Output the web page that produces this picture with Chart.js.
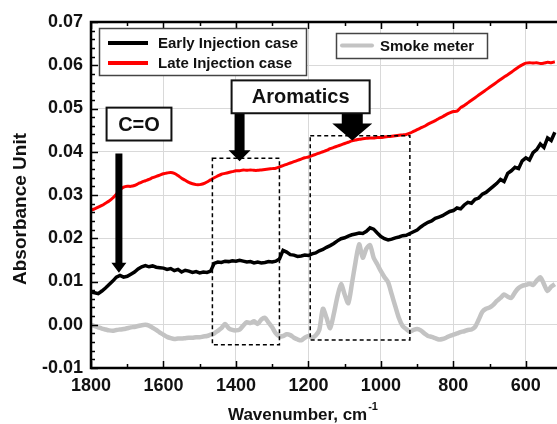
<!DOCTYPE html>
<html>
<head>
  <meta charset="utf-8">
  <title>Absorbance spectra</title>
  <script src="https://cdn.jsdelivr.net/npm/chart.js"></script>
  <style>
    body { margin: 0; background: #fff; }
    canvas { display: block; }
  </style>
</head>
<body>
  <canvas id="myChart" width="557" height="424"></canvas>

  <script>
    // Wavenumber, cm-1
    var wavenumber = [
      1800, 1790, 1780, 1770, 1760, 1750, 1740, 1730, 1720, 1710,
      1700, 1690, 1680, 1670, 1660, 1650, 1640, 1630, 1620, 1610,
      1600, 1590, 1580, 1570, 1560, 1550, 1540, 1530, 1520, 1510,
      1500, 1490, 1480, 1470, 1460, 1450, 1440, 1430, 1420, 1410,
      1400, 1390, 1380, 1370, 1360, 1350, 1340, 1330, 1320, 1310,
      1300, 1290, 1280, 1270, 1260, 1250, 1240, 1230, 1220, 1210,
      1200, 1190, 1180, 1170, 1160, 1150, 1140, 1130, 1120, 1110,
      1100, 1090, 1080, 1070, 1060, 1050, 1040, 1030, 1020, 1010,
      1000, 990, 980, 970, 960, 950, 940, 930, 920, 910,
      900, 890, 880, 870, 860, 850, 840, 830, 820, 810,
      800, 790, 780, 770, 760, 750, 740, 730, 720, 710,
      700, 690, 680, 670, 660, 650, 640, 630, 620, 610,
      600, 590, 580, 570, 560, 550, 540, 530, 520
    ];

    // Early Injection case
    var earlyInjection = [
      0.0076, 0.0074, 0.0072, 0.0078, 0.0085, 0.0093, 0.0101, 0.0110, 0.0114, 0.0110,
      0.0112, 0.0117, 0.0122, 0.0129, 0.0134, 0.0137, 0.0134, 0.0136, 0.0133, 0.0132,
      0.0131, 0.0128, 0.0130, 0.0125, 0.0128, 0.0122, 0.0126, 0.0124, 0.0121, 0.0123,
      0.0120, 0.0122, 0.0121, 0.0124, 0.0142, 0.0145, 0.0144, 0.0147, 0.0146, 0.0148,
      0.0147, 0.0149, 0.0147, 0.0145, 0.0146, 0.0143, 0.0145, 0.0143, 0.0144, 0.0146,
      0.0145, 0.0147, 0.0152, 0.0172, 0.0168, 0.0162, 0.0161, 0.0158, 0.0159, 0.0161,
      0.0160, 0.0164, 0.0166, 0.0171, 0.0174, 0.0179, 0.0183, 0.0188, 0.0194, 0.0199,
      0.0201, 0.0205, 0.0208, 0.0210, 0.0212, 0.0211, 0.0216, 0.0224, 0.0221, 0.0212,
      0.0204, 0.0199, 0.0196, 0.0198, 0.0201, 0.0203, 0.0206, 0.0207, 0.0211, 0.0215,
      0.0219, 0.0226, 0.0232, 0.0237, 0.0240, 0.0246, 0.0249, 0.0252, 0.0257, 0.0262,
      0.0264, 0.0270, 0.0268, 0.0277, 0.0283, 0.0281, 0.0290, 0.0293, 0.0302, 0.0306,
      0.0313, 0.0320, 0.0327, 0.0336, 0.0331, 0.0350, 0.0356, 0.0364, 0.0361, 0.0379,
      0.0386, 0.0381, 0.0398, 0.0405, 0.0418, 0.0410, 0.0432, 0.0426, 0.0445
    ];

    // Late Injection case
    var lateInjection = [
      0.0265, 0.0268, 0.0272, 0.0276, 0.0281, 0.0286, 0.0293, 0.0302, 0.0312, 0.0318,
      0.0320, 0.0320, 0.0322, 0.0326, 0.0330, 0.0333, 0.0336, 0.0340, 0.0343, 0.0346,
      0.0349, 0.0351, 0.0352, 0.0350, 0.0345, 0.0339, 0.0334, 0.0329, 0.0326, 0.0324,
      0.0324, 0.0326, 0.0330, 0.0335, 0.0340, 0.0344, 0.0348, 0.0350, 0.0352, 0.0354,
      0.0356, 0.0356, 0.0358, 0.0357, 0.0358, 0.0357, 0.0357, 0.0358, 0.0359, 0.0360,
      0.0361, 0.0362, 0.0365, 0.0368, 0.0371, 0.0374, 0.0377, 0.0380, 0.0383, 0.0386,
      0.0388, 0.0391, 0.0394, 0.0397, 0.0400, 0.0403, 0.0407, 0.0410, 0.0413, 0.0416,
      0.0419, 0.0422, 0.0425, 0.0427, 0.0429, 0.0430, 0.0431, 0.0432, 0.0432, 0.0433,
      0.0433, 0.0434, 0.0435, 0.0436, 0.0437, 0.0438, 0.0439, 0.0440, 0.0443, 0.0447,
      0.0451, 0.0455, 0.0459, 0.0464, 0.0468, 0.0472, 0.0477, 0.0481, 0.0486, 0.0490,
      0.0493, 0.0494, 0.0502, 0.0507, 0.0513, 0.0519, 0.0525, 0.0531, 0.0537, 0.0543,
      0.0549, 0.0555, 0.0561, 0.0567, 0.0573, 0.0578, 0.0584, 0.0590, 0.0596, 0.0601,
      0.0605, 0.0606, 0.0605, 0.0606, 0.0604, 0.0605, 0.0607, 0.0606, 0.0608
    ];

    // Smoke meter
    var smokeMeter = [
      0.0000, -0.0003, -0.0006, -0.0009, -0.0011, -0.0013, -0.0014, -0.0012, -0.0011, -0.0010,
      -0.0008, -0.0006, -0.0005, -0.0003, -0.0001, 0.0000, -0.0002, -0.0007, -0.0012, -0.0018,
      -0.0023, -0.0028, -0.0031, -0.0033, -0.0032, -0.0032, -0.0031, -0.0030, -0.0030, -0.0029,
      -0.0029, -0.0027, -0.0026, -0.0023, -0.0020, -0.0014, -0.0008, 0.0002, -0.0008, -0.0012,
      -0.0013, -0.0011, -0.0002, 0.0006, 0.0004, 0.0008, 0.0002, 0.0012, 0.0016, 0.0005,
      -0.0006, -0.0020, -0.0027, -0.0026, -0.0022, -0.0024, -0.0030, -0.0034, -0.0036, -0.0030,
      -0.0026, -0.0030, -0.0025, -0.0012, 0.0037, 0.0016, -0.0008, 0.0025, 0.0065, 0.0094,
      0.0070, 0.0050, 0.0095, 0.0145, 0.0186, 0.0155, 0.0176, 0.0184, 0.0155, 0.0140,
      0.0124, 0.0110, 0.0098, 0.0070, 0.0042, 0.0015, -0.0003, -0.0010, -0.0016, -0.0012,
      -0.0010, -0.0013, -0.0020, -0.0026, -0.0028, -0.0031, -0.0034, -0.0033, -0.0030, -0.0026,
      -0.0023, -0.0020, -0.0017, -0.0015, -0.0012, -0.0011, -0.0005, 0.0012, 0.0030, 0.0037,
      0.0040, 0.0046, 0.0055, 0.0062, 0.0070, 0.0065, 0.0062, 0.0075, 0.0085, 0.0090,
      0.0092, 0.0095, 0.0092, 0.0102, 0.0110, 0.0094, 0.0078, 0.0088, 0.0094
    ];

    // Marcas del gráfico (en unidades de los ejes)
    var dashedBoxes = [
      { from: 1465, to: 1280, top: 0.0385, bottom: -0.0046 },
      { from: 1195, to: 920, top: 0.0437, bottom: -0.0035 }
    ];
    var labelBoxes = [
      { text: 'C=O', from: 1757, to: 1578, top: 0.0502, bottom: 0.0426 },
      { text: 'Aromatics', from: 1412, to: 1031, top: 0.0565, bottom: 0.0489 }
    ];
    var arrows = [
      { x: 1723, top: 0.0396, tip: 0.0120, shaft: 7, head: 15, headH: 10 },
      { x: 1390, top: 0.0489, tip: 0.0378, shaft: 10, head: 22, headH: 11 },
      { x: 1079, top: 0.0489, tip: 0.0426, shaft: 21, head: 40, headH: 17 }
    ];

    var FONT = 'Arial, "Liberation Sans", sans-serif';

    function toPoints(ys) {
      return wavenumber.map(function(w, i) { return { x: w, y: ys[i] }; });
    }

    // Dibuja bordes, marcas, cajas, flechas, leyendas y títulos
    var decorPlugin = {
      id: 'decor',
      afterDraw: function(chart) {
        var c = chart.ctx, a = chart.chartArea;
        var xs = chart.scales.x, ys = chart.scales.y;
        c.save();

        // ticks hacia adentro
        c.strokeStyle = '#000';
        c.lineWidth = 1.5;
        c.beginPath();
        for (var w = 600; w <= 1800; w += 100) {
          var px = Math.round(xs.getPixelForValue(w)) + 0.5;
          var len = (w % 200 === 0) ? 7 : 4;
          c.moveTo(px, a.bottom); c.lineTo(px, a.bottom - len);
          c.moveTo(px, a.top); c.lineTo(px, a.top + len);
        }
        for (var k = -10; k <= 70; k += 2) {
          var py = Math.round(ys.getPixelForValue(k / 1000)) + 0.5;
          var l2 = (k % 10 === 0) ? 7 : 4;
          c.moveTo(a.left, py); c.lineTo(a.left + l2, py);
        }
        c.stroke();

        // borde
        c.lineWidth = 2.5;
        c.beginPath();
        c.moveTo(a.right, a.top);
        c.lineTo(a.left, a.top);
        c.lineTo(a.left, a.bottom);
        c.lineTo(a.right, a.bottom);
        c.stroke();

        // cajas punteadas
        c.lineWidth = 1.5;
        c.setLineDash([4, 3]);
        dashedBoxes.forEach(function(b) {
          var x1 = xs.getPixelForValue(b.from), x2 = xs.getPixelForValue(b.to);
          var y1 = ys.getPixelForValue(b.top), y2 = ys.getPixelForValue(b.bottom);
          c.strokeRect(x1, y1, x2 - x1, y2 - y1);
        });
        c.setLineDash([]);

        // flechas
        c.fillStyle = '#000';
        arrows.forEach(function(r) {
          var x = xs.getPixelForValue(r.x);
          var y1 = ys.getPixelForValue(r.top), y2 = ys.getPixelForValue(r.tip);
          var yh = y2 - r.headH;
          c.beginPath();
          c.moveTo(x - r.shaft / 2, y1);
          c.lineTo(x + r.shaft / 2, y1);
          c.lineTo(x + r.shaft / 2, yh);
          c.lineTo(x + r.head / 2, yh);
          c.lineTo(x, y2);
          c.lineTo(x - r.head / 2, yh);
          c.lineTo(x - r.shaft / 2, yh);
          c.closePath();
          c.fill();
        });

        // cajas con texto
        labelBoxes.forEach(function(b) {
          var x1 = xs.getPixelForValue(b.from), x2 = xs.getPixelForValue(b.to);
          var y1 = ys.getPixelForValue(b.top), y2 = ys.getPixelForValue(b.bottom);
          c.fillStyle = '#fff';
          c.fillRect(x1, y1, x2 - x1, y2 - y1);
          c.strokeStyle = '#111';
          c.lineWidth = 2;
          c.strokeRect(x1, y1, x2 - x1, y2 - y1);
          c.fillStyle = '#111';
          c.font = 'bold 20px ' + FONT;
          c.textAlign = 'center';
          c.textBaseline = 'middle';
          c.fillText(b.text, (x1 + x2) / 2, (y1 + y2) / 2 + 1);
        });

        // leyendas
        function legendBox(x, y, w, h) {
          c.fillStyle = '#fff';
          c.fillRect(x, y, w, h);
          c.strokeStyle = '#444';
          c.lineWidth = 1.5;
          c.strokeRect(x, y, w, h);
        }
        function legendItem(x, y, color, lw, text, tx) {
          c.strokeStyle = color;
          c.lineWidth = lw;
          c.beginPath();
          c.moveTo(x, y); c.lineTo(x + 40, y);
          c.stroke();
          c.fillStyle = '#111';
          c.font = 'bold 15px ' + FONT;
          c.textAlign = 'left';
          c.textBaseline = 'middle';
          c.fillText(text, tx, y + 1);
        }
        legendBox(99.5, 28.5, 207, 47);
        legendItem(108, 43, '#000', 4, 'Early Injection case', 158);
        legendItem(108, 63, '#ff0000', 4, 'Late Injection case', 158);
        legendBox(336.5, 33.5, 151, 25);
        c.lineCap = 'round';
        c.strokeStyle = '#c3c3c3';
        c.lineWidth = 4;
        c.beginPath(); c.moveTo(342, 45.5); c.lineTo(372, 45.5); c.stroke();
        c.lineCap = 'butt';
        c.fillStyle = '#111';
        c.font = 'bold 15px ' + FONT;
        c.textAlign = 'left';
        c.textBaseline = 'middle';
        c.fillText('Smoke meter', 380, 46.5);

        // títulos de ejes
        c.fillStyle = '#111';
        c.font = 'bold 17px ' + FONT;
        c.textAlign = 'left';
        c.textBaseline = 'alphabetic';
        c.fillText('Wavenumber, cm', 228, 420);
        var tw = c.measureText('Wavenumber, cm').width;
        c.font = 'bold 11px ' + FONT;
        c.fillText('-1', 228 + tw + 1, 410);

        c.translate(21, 209);
        c.rotate(-Math.PI / 2);
        c.font = 'bold 19px ' + FONT;
        c.textAlign = 'center';
        c.textBaseline = 'middle';
        c.fillText('Absorbance Unit', 0, 0);

        c.restore();
      }
    };

    var ctx = document.getElementById('myChart').getContext('2d');
    var myChart = new Chart(ctx, {
      type: 'line',
      data: {
        datasets: [
          { label: 'Early Injection case', data: toPoints(earlyInjection), borderColor: '#000',
            borderWidth: 3.5, pointRadius: 0, tension: 0 },
          { label: 'Late Injection case', data: toPoints(lateInjection), borderColor: '#ff0000',
            borderWidth: 3, pointRadius: 0, tension: 0.3 },
          { label: 'Smoke meter', data: toPoints(smokeMeter), borderColor: '#c3c3c3',
            borderWidth: 4.5, pointRadius: 0, tension: 0.25 }
        ]
      },
      options: {
        responsive: false,
        animation: false,
        layout: { padding: { top: 22, right: 0, left: 0, bottom: 0 } },
        plugins: { legend: { display: false }, tooltip: { enabled: false } },
        scales: {
          x: {
            type: 'linear',
            reverse: true,
            min: 514,
            max: 1800,
            border: { display: false },
            grid: { color: '#d9d9d9', lineWidth: 1, drawTicks: false },
            ticks: {
              stepSize: 200,
              includeBounds: false,
              padding: 7,
              color: '#111',
              font: { family: FONT, size: 18, weight: 'bold' },
              maxRotation: 0,
              callback: function(v) { return v; }
            },
            afterFit: function(s) { s.height = 56; }
          },
          y: {
            min: -0.01,
            max: 0.07,
            border: { display: false },
            grid: { color: '#d9d9d9', lineWidth: 1, drawTicks: false },
            ticks: {
              stepSize: 0.01,
              padding: 8,
              color: '#111',
              font: { family: FONT, size: 18, weight: 'bold' },
              callback: function(v) { return v.toFixed(2); }
            },
            afterFit: function(s) { s.width = 91; }
          }
        }
      },
      plugins: [decorPlugin]
    });
  </script>
</body>
</html>
